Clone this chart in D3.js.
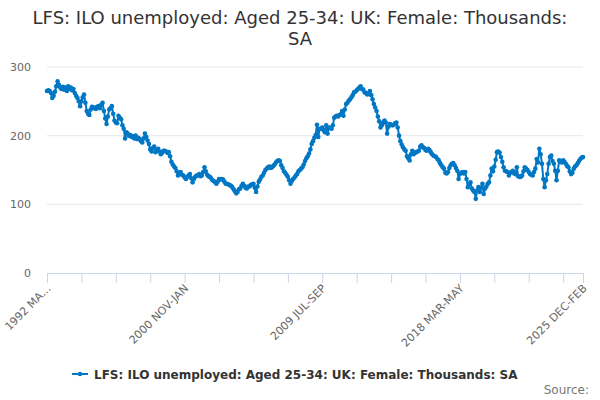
<!DOCTYPE html>
<html>
<head>
<meta charset="utf-8">
<script src="https://d3js.org/d3.v7.min.js"></script>
<style>
  body { margin: 0; background: #fff; }
  text { font-family: "DejaVu Sans", sans-serif; }
</style>
</head>
<body>
<div id="chart"></div>
<script>
// chart text
var titleLines = ["LFS: ILO unemployed: Aged 25-34: UK: Female: Thousands:", "SA"];
var seriesName = "LFS: ILO unemployed: Aged 25-34: UK: Female: Thousands: SA";
var sourceText = "Source:";

// rolling 3-month periods, first one is 1992 MAR-MAY
var monthNames = ["JAN","FEB","MAR","APR","MAY","JUN","JUL","AUG","SEP","OCT","NOV","DEC"];
var startYear = 1992, startMonth = 2;

// thousands, seasonally adjusted
var values = [
  265,266,265,262,255,258,264,272,279,274,
  270,268,271,267,270,265,272,268,270,266,
  268,262,258,255,250,243,250,256,260,248,
  236,232,230,238,242,240,241,239,242,243,
  240,245,248,236,225,217,228,238,240,243,
  232,222,219,218,229,226,224,215,210,196,
  205,203,200,201,198,199,196,200,195,197,
  195,192,190,196,203,198,193,188,180,177,
  182,184,176,179,181,177,173,175,178,178,
  177,175,176,170,162,158,155,153,148,142,
  145,147,143,142,139,137,140,142,144,138,
  132,137,140,142,142,144,141,142,147,154,
  148,143,141,140,138,135,134,132,130,133,
  137,136,137,136,133,130,130,129,128,127,
  125,122,119,116,118,122,123,127,130,127,
  124,123,126,126,128,129,130,124,118,126,
  133,136,140,142,146,150,152,154,155,153,
  154,156,158,161,163,164,163,157,153,148,
  146,143,140,135,130,134,137,139,142,144,
  148,150,152,154,158,163,167,170,174,180,
  188,192,197,201,216,198,210,210,212,208,
  205,215,203,212,211,210,215,226,228,229,
  228,230,231,236,229,238,246,248,251,253,
  256,259,263,264,266,268,270,272,268,267,
  263,262,260,262,265,259,253,246,241,236,
  228,221,212,215,219,222,219,203,213,217,
  216,215,216,218,219,212,200,192,187,183,
  180,178,170,167,164,173,178,173,175,176,
  177,178,184,186,183,182,179,178,181,179,
  176,173,171,170,169,166,164,160,157,154,
  152,146,145,147,153,157,159,160,157,153,
  149,137,144,146,147,145,147,137,125,130,
  132,123,120,118,108,120,125,118,124,130,
  115,123,126,130,132,142,152,148,155,165,
  176,177,175,169,162,154,149,148,147,142,
  146,147,149,145,144,154,141,140,140,142,
  148,154,152,150,147,144,143,142,147,152,
  166,161,181,173,159,137,125,135,144,159,
  169,171,163,159,149,135,149,164,162,161,
  164,162,159,156,154,148,144,146,152,155,
  157,160,163,166,168,169
];

var yTicks = [0, 100, 200, 300];
var xTickLabels = ["1992 MA\u2026", "2000 NOV-JAN", "2009 JUL-SEP", "2018 MAR-MAY", "2025 DEC-FEB"];
var tickStep = 26, labelStep = 104;

var periods = values.map(function(v, i) {
  var m = startYear * 12 + startMonth + i;
  var y = Math.floor(m / 12), mo = m % 12;
  return y + " " + monthNames[mo] + "-" + monthNames[(mo + 2) % 12];
});

var width = 600, height = 400;
var margin = {left: 47, right: 17, top: 67, bottom: 127};

var svg = d3.select("#chart").append("svg")
  .attr("width", width).attr("height", height);

var x = d3.scalePoint()
  .domain(periods)
  .range([margin.left, width - margin.right]);

var y = d3.scaleLinear()
  .domain([0, 300])
  .range([height - margin.bottom, margin.top]);

// title
svg.append("text")
  .attr("x", width / 2).attr("y", 24)
  .attr("text-anchor", "middle")
  .attr("fill", "#333333").style("font-size", "18px")
  .selectAll("tspan").data(titleLines).enter().append("tspan")
  .attr("x", width / 2).attr("dy", function(d, i) { return i ? 21 : 0; })
  .text(function(d) { return d; });

// grid
svg.append("g").selectAll("line")
  .data(yTicks.filter(function(t) { return t > 0; }))
  .enter().append("line")
  .attr("x1", margin.left).attr("x2", width - margin.right)
  .attr("y1", function(d) { return y(d); }).attr("y2", function(d) { return y(d); })
  .attr("stroke", "#e6e6e6").attr("stroke-width", 1);

// y axis labels
var yAxis = svg.append("g")
  .attr("transform", "translate(" + (margin.left - 16) + ",0)")
  .call(d3.axisLeft(y).tickValues(yTicks).tickSize(0).tickPadding(0));
yAxis.select(".domain").remove();
yAxis.selectAll("text").attr("fill", "#666666").style("font-size", "11px")
  .style("font-family", "DejaVu Sans, sans-serif");

// x axis
var tickIdx = [];
for (var i = 0; i < periods.length; i += tickStep) tickIdx.push(i);
if (tickIdx[tickIdx.length - 1] !== periods.length - 1) tickIdx.push(periods.length - 1);

var xAxis = svg.append("g")
  .attr("transform", "translate(0," + y(0) + ")")
  .call(d3.axisBottom(x)
    .tickValues(tickIdx.map(function(i) { return periods[i]; }))
    .tickSize(10)
    .tickSizeOuter(0)
    .tickFormat(function(d) {
      var i = periods.indexOf(d);
      if (i === periods.length - 1) return xTickLabels[xTickLabels.length - 1];
      if (i % labelStep === 0) return xTickLabels[i / labelStep];
      return "";
    }));
xAxis.select(".domain").attr("stroke", "#ccd6eb");
xAxis.selectAll(".tick line").attr("stroke", "#ccd6eb");
xAxis.selectAll(".tick text")
  .attr("fill", "#666666").style("font-size", "11px")
  .style("font-family", "DejaVu Sans, sans-serif")
  .attr("text-anchor", "end")
  .attr("dy", null).attr("y", 0)
  .attr("transform", "translate(4,16) rotate(-45)");

// series
var color = "#0077c4";
var line = d3.line()
  .x(function(d, i) { return x(periods[i]); })
  .y(function(d) { return y(d); });

svg.append("path")
  .datum(values)
  .attr("fill", "none")
  .attr("stroke", color)
  .attr("stroke-width", 2)
  .attr("stroke-linejoin", "round")
  .attr("d", line);

svg.append("g").selectAll("circle")
  .data(values).enter().append("circle")
  .attr("cx", function(d, i) { return x(periods[i]); })
  .attr("cy", function(d) { return y(d); })
  .attr("r", 2.3)
  .attr("fill", color);

// legend
var lg = svg.append("g").attr("transform", "translate(0,374)");
lg.append("line").attr("x1", 72).attr("x2", 88).attr("y1", 0).attr("y2", 0)
  .attr("stroke", color).attr("stroke-width", 2);
lg.append("circle").attr("cx", 80).attr("cy", 0).attr("r", 2.3).attr("fill", color);
lg.append("text").attr("x", 94).attr("y", 4.5)
  .attr("fill", "#333333").style("font-size", "12px").style("font-weight", "bold")
  .text(seriesName);

// source
svg.append("text")
  .attr("x", 589).attr("y", 394)
  .attr("text-anchor", "end")
  .attr("fill", "#777777").style("font-size", "12px")
  .text(sourceText);
</script>
</body>
</html>
